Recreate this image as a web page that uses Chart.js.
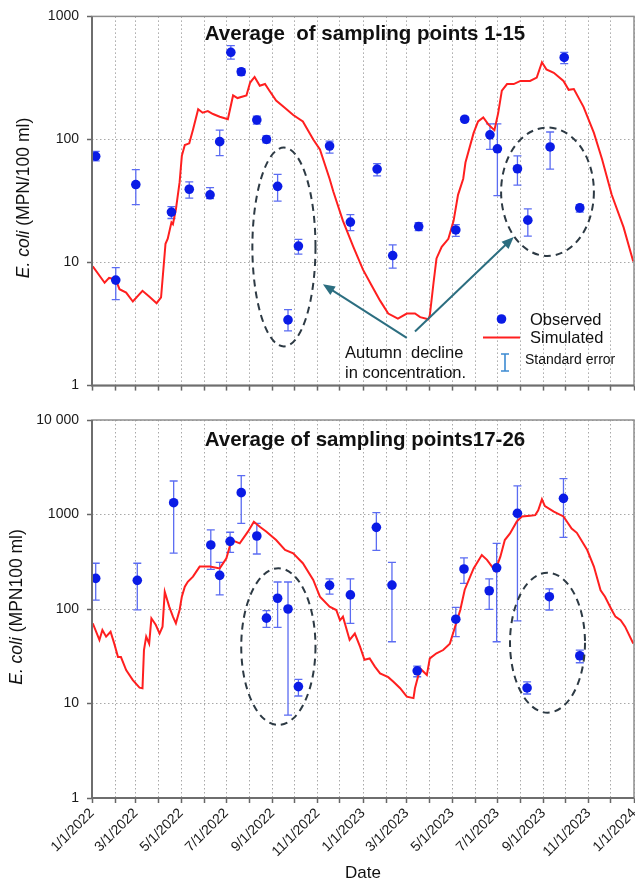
<!DOCTYPE html>
<html>
<head>
<meta charset="utf-8">
<script src="https://cdn.jsdelivr.net/npm/chart.js@4.4.1/dist/chart.umd.min.js"></script>
<style>
  body { margin: 0; background: #fff; }
  #wrap { position: relative; width: 635px; height: 882px; overflow: hidden; }
  canvas { position: absolute; left: 0; }
  #top { top: 0; }
  #bottom { top: 402px; }
  .t { position: absolute; font-family: "Liberation Sans", Arial, sans-serif; color: #111; white-space: pre; line-height: 1; }
  .title { font-weight: bold; font-size: 20.5px; transform: translate(-50%, -50%); }
  .ytitle { font-size: 17.5px; transform: translate(-50%, -50%) rotate(-90deg); }
  .leg { font-size: 16.5px; transform: translateY(-50%); }
</style>
</head>
<body>
<div id="wrap">
  <canvas id="top" width="635" height="402"></canvas>
  <canvas id="bottom" width="635" height="480"></canvas>

  <div class="t title" style="left:365px;top:33px">Average  of sampling points 1-15</div>
  <div class="t title" style="left:365px;top:439px">Average of sampling points17-26</div>
  <div class="t ytitle" style="left:24px;top:198px"><i>E. coli</i> (MPN/100 ml)</div>
  <div class="t ytitle" style="left:17px;top:607px"><i>E. coli</i> (MPN100 ml)</div>

  <div class="t leg" style="left:530px;top:319px">Observed</div>
  <div class="t leg" style="left:530px;top:337px">Simulated</div>
  <div class="t leg" style="left:525px;top:359px;font-size:14px">Standard error</div>
  <div class="t leg" style="left:345px;top:352px">Autumn  decline</div>
  <div class="t leg" style="left:345px;top:372px">in concentration.</div>
  <div class="t" style="left:363px;top:872px;font-size:17px;transform:translate(-50%,-50%)">Date</div>
</div>

<script>
// x values are days since 1/1/2022
const monthStartDays = [0, 31, 59, 90, 120, 151, 181, 212, 243, 273, 304, 334,
  365, 396, 424, 455, 485, 516, 546, 577, 608, 638, 669, 699, 730];
const dateLabels = ['1/1/2022', '3/1/2022', '5/1/2022', '7/1/2022', '9/1/2022', '11/1/2022',
  '1/1/2023', '3/1/2023', '5/1/2023', '7/1/2023', '9/1/2023', '11/1/2023', '1/1/2024'];

const yTopTicks = [1, 10, 100, 1000];
const yTopLabels = ['1', '10', '100', '1000'];
const yBotTicks = [1, 10, 100, 1000, 10000];
const yBotLabels = ['1', '10', '100', '1000', '10 000'];

// sampling points 1-15
const obsTopDays = [5, 32, 59, 107, 131, 159, 172, 187, 201, 222, 235, 250, 264, 278, 320, 348, 384, 405, 440, 490, 502, 536, 546, 573, 587, 617, 636, 657];
const obsTopMean = [73, 7.2, 43, 25.7, 39.4, 35.5, 96, 511, 355, 144, 100, 41.6, 3.42, 13.6, 88.5, 21.3, 57.5, 11.4, 19.6, 18.4, 146, 109, 84, 57.8, 22.1, 86.9, 464, 27.8];
const obsTopLow = [67, 5.0, 29.5, 22.8, 33.4, 33, 74, 450, 334, 133, 94, 31.5, 2.78, 11.7, 77.4, 18.2, 50.6, 9.0, 18.2, 16.3, 140, 83, 35, 42.6, 16.4, 57.5, 414, 25.7];
const obsTopHigh = [80, 9.1, 56.8, 28.5, 45.3, 40.6, 119, 578, 375, 155, 107, 52, 4.14, 15.4, 97, 24.5, 63.7, 13.9, 21.1, 20.3, 152, 134, 134, 73.7, 27.3, 115, 511, 29.5];

const simTopDays = [1, 17, 23, 32, 37, 46, 55, 68, 77, 87, 93, 99, 102, 107, 109, 113, 118, 121, 125, 131,
  136, 143, 149, 156, 163, 172, 183, 190, 196, 208, 213, 219, 226, 233, 239, 248, 260, 271, 284, 298,
  307, 320, 325, 338, 352, 365, 377, 388, 399, 412, 424, 435, 442, 453, 455, 460, 464, 471, 480, 487,
  493, 500, 503, 514, 520, 527, 534, 542, 547, 552, 559, 568, 577, 590, 599, 606, 612, 622, 635, 642,
  649, 662, 676, 687, 700, 716, 729];
const simTopVals = [9.3, 6.85, 7.5, 7.3, 6.07, 5.7, 4.82, 5.89, 5.3, 4.67, 5.2, 14.2, 15.6, 21.2, 20.5, 27, 45, 73.6, 90, 93,
  120, 176, 165, 170, 161, 153, 146, 228, 217, 228, 290, 322, 273, 282, 249, 207, 180, 158, 140, 100,
  83, 48, 37.8, 21.8, 13.4, 8.75, 6.45, 4.9, 3.85, 3.5, 3.85, 3.85, 3.6, 3.46, 3.73, 6.85, 10.8, 13.4, 15.6, 21.8,
  35.5, 48, 65, 113, 140, 151, 132, 119, 163, 249, 282, 282, 299, 299, 318, 424, 371, 348, 299, 253,
  257, 184, 113, 69, 35.5, 19.3, 10.2];

// sampling points 17-26
const obsBotDays = [5, 61, 110, 160, 172, 186, 201, 222, 235, 250, 264, 278, 320, 348, 383, 404, 438, 490, 501, 535, 545, 573, 586, 616, 635, 657];
const obsBotMean = [211, 201, 1333, 476, 227, 520, 1702, 592, 80, 130, 100, 15.1, 178, 141, 731, 179, 22.2, 78, 265, 156, 273, 1030, 14.6, 135, 1483, 32];
const obsBotLow = [124, 98, 391, 263, 141, 398, 807, 382, 64, 64, 7.55, 12, 144, 70.6, 418, 45, 19.2, 51, 187, 99, 45, 75, 12.6, 97.6, 574, 27];
const obsBotHigh = [305, 305, 2261, 686, 312, 649, 2575, 807, 96, 193, 193, 18, 208, 208, 1045, 312, 24.9, 104, 347, 208, 495, 2004, 16.9, 163, 2393, 36.8];

const simBotDays = [1, 10, 14, 19, 25, 30, 35, 39, 46, 55, 64, 68, 70, 73, 77, 80, 86, 91, 95, 98,
  104, 109, 113, 118, 121, 125, 129, 136, 145, 159, 172, 181, 188, 199, 210, 218, 226, 235, 248, 260,
  271, 284, 298, 307, 320, 329, 334, 338, 347, 354, 361, 367, 374, 381, 388, 399, 406, 415, 424, 433,
  435, 442, 451, 455, 464, 473, 482, 489, 496, 502, 514, 525, 532, 543, 550, 556, 563, 572, 579, 590,
  597, 601, 606, 610, 622, 635, 646, 653, 667, 676, 685, 691, 700, 705, 712, 718, 729];
const simBotVals = [70.6, 47, 60, 51, 57.5, 43, 31, 31, 22.6, 17.7, 14.7, 14.5, 36.8, 51, 43, 79.7, 67.7, 55, 65, 152,
  106, 83, 70.6, 97.6, 135, 172, 194, 220, 281, 281, 269, 344, 537, 495, 658, 840, 743, 658, 537, 421,
  388, 305, 203, 135, 106, 97.6, 76, 83, 47, 55, 40, 29, 30, 24.6, 20.8, 19, 17, 14.5, 11.8, 11.4,
  14.5, 23.5, 20, 30, 34, 36.8, 43, 65, 97.6, 160, 269, 372, 331, 253, 358, 537, 630, 840, 953, 972,
  985, 1105, 1450, 1225, 1070, 953, 710, 640, 421, 281, 158, 135, 97.6, 83, 76, 65, 43];

Chart.defaults.font.family = '"Liberation Sans", Arial, sans-serif';
Chart.defaults.color = '#1a1a1a';

const toXY = (xs, ys) => xs.map((x, i) => ({ x: x, y: ys[i] }));

// error bars, dashed ellipses, arrows, frame and legend icons
const overlay = {
  id: 'overlay',
  beforeDatasetsDraw(chart, args, o) {
    const { ctx, scales: { x, y } } = chart;
    ctx.save();
    ctx.strokeStyle = '#5b6cf2';
    ctx.lineWidth = 1.3;
    o.days.forEach((d, i) => {
      const px = x.getPixelForValue(d);
      const lo = y.getPixelForValue(o.low[i]);
      const hi = y.getPixelForValue(o.high[i]);
      ctx.beginPath();
      ctx.moveTo(px, lo); ctx.lineTo(px, hi);
      ctx.moveTo(px - 4, lo); ctx.lineTo(px + 4, lo);
      ctx.moveTo(px - 4, hi); ctx.lineTo(px + 4, hi);
      ctx.stroke();
    });
    ctx.restore();
  },
  afterDatasetsDraw(chart, args, o) {
    const { ctx, chartArea: a, scales: { x, y } } = chart;
    ctx.save();
    ctx.strokeStyle = '#2d3a44';
    ctx.lineWidth = 2;
    ctx.setLineDash([7, 5]);
    o.ellipses.forEach(e => {
      const x0 = x.getPixelForValue(e[0]), x1 = x.getPixelForValue(e[1]);
      const y0 = y.getPixelForValue(e[2]), y1 = y.getPixelForValue(e[3]);
      ctx.beginPath();
      ctx.ellipse((x0 + x1) / 2, (y0 + y1) / 2, Math.abs(x1 - x0) / 2, Math.abs(y1 - y0) / 2, 0, 0, Math.PI * 2);
      ctx.stroke();
    });
    ctx.setLineDash([]);

    ctx.strokeStyle = '#2c6e80';
    ctx.fillStyle = '#2c6e80';
    (o.arrows || []).forEach(r => {
      const sx = x.getPixelForValue(r[0]), sy = y.getPixelForValue(r[1]);
      const ex = x.getPixelForValue(r[2]), ey = y.getPixelForValue(r[3]);
      const ang = Math.atan2(ey - sy, ex - sx);
      ctx.lineWidth = 2;
      ctx.beginPath();
      ctx.moveTo(sx, sy);
      ctx.lineTo(ex - 9 * Math.cos(ang), ey - 9 * Math.sin(ang));
      ctx.stroke();
      ctx.beginPath();
      ctx.moveTo(ex, ey);
      ctx.lineTo(ex - 12 * Math.cos(ang) + 5 * Math.sin(ang), ey - 12 * Math.sin(ang) - 5 * Math.cos(ang));
      ctx.lineTo(ex - 12 * Math.cos(ang) - 5 * Math.sin(ang), ey - 12 * Math.sin(ang) + 5 * Math.cos(ang));
      ctx.closePath();
      ctx.fill();
    });

    // frame
    ctx.strokeStyle = '#8e8e8e';
    ctx.lineWidth = 1.5;
    ctx.strokeRect(a.left, a.top, a.right - a.left, a.bottom - a.top);
    ctx.strokeStyle = '#6e6e6e';
    ctx.lineWidth = 2;
    ctx.beginPath();
    ctx.moveTo(a.left, a.top); ctx.lineTo(a.left, a.bottom); ctx.lineTo(a.right, a.bottom);
    ctx.stroke();

    if (o.legend) {
      ctx.fillStyle = '#0a1be6';
      ctx.beginPath(); ctx.arc(501.5, 319, 4.8, 0, Math.PI * 2); ctx.fill();
      ctx.strokeStyle = '#ff1f1f';
      ctx.lineWidth = 2;
      ctx.beginPath(); ctx.moveTo(483, 337.5); ctx.lineTo(520, 337.5); ctx.stroke();
      ctx.strokeStyle = '#3c8bd2';
      ctx.lineWidth = 1.6;
      ctx.beginPath();
      ctx.moveTo(505, 354); ctx.lineTo(505, 371);
      ctx.moveTo(501, 354); ctx.lineTo(509, 354);
      ctx.moveTo(501, 371); ctx.lineTo(509, 371);
      ctx.stroke();
    }
    ctx.restore();
  }
};

function makeChart(id, cfg) {
  return new Chart(document.getElementById(id), {
    type: 'line',
    data: {
      datasets: [
        {
          label: 'Observed',
          data: toXY(cfg.obsDays, cfg.obsMean),
          showLine: false,
          pointRadius: 4.8,
          pointBackgroundColor: '#0a1be6',
          pointBorderWidth: 0
        },
        {
          label: 'Simulated',
          data: toXY(cfg.simDays, cfg.simVals),
          borderColor: '#ff1f1f',
          borderWidth: 2,
          pointRadius: 0,
          tension: 0
        }
      ]
    },
    options: {
      responsive: false,
      animation: false,
      devicePixelRatio: 1,
      layout: { autoPadding: false, padding: { top: cfg.padTop, right: 1, left: 0, bottom: 0 } },
      plugins: {
        legend: { display: false },
        tooltip: { enabled: false },
        overlay: {
          days: cfg.obsDays, low: cfg.obsLow, high: cfg.obsHigh,
          ellipses: cfg.ellipses, arrows: cfg.arrows, legend: cfg.legend
        }
      },
      scales: {
        x: {
          type: 'linear',
          min: 0,
          max: 730,
          afterBuildTicks: s => { s.ticks = monthStartDays.map(d => ({ value: d })); },
          afterFit: s => { s.height = cfg.xHeight; s.paddingLeft = 0; s.paddingRight = 0; },
          ticks: {
            display: cfg.showDates,
            autoSkip: false,
            minRotation: 45,
            maxRotation: 45,
            padding: 2,
            font: { size: 14 },
            color: '#1a1a1a',
            callback: (v, i) => (i % 2 === 0 ? dateLabels[i / 2] : '')
          },
          grid: { color: '#a8a8a8', lineWidth: 1, tickLength: 5, tickColor: '#666', tickWidth: 1.5, tickBorderDash: [] },
          border: { display: false, dash: [1.5, 2.5] }
        },
        y: {
          type: 'logarithmic',
          min: cfg.yTicks[0],
          max: cfg.yTicks[cfg.yTicks.length - 1],
          afterBuildTicks: s => { s.ticks = cfg.yTicks.map(v => ({ value: v })); },
          afterFit: s => { s.width = 92; },
          ticks: {
            padding: 8,
            font: { size: 14 },
            color: '#1a1a1a',
            callback: (v) => cfg.yLabels[cfg.yTicks.indexOf(v)]
          },
          grid: { color: '#a8a8a8', lineWidth: 1, tickLength: 5, tickColor: '#666', tickWidth: 1.5, tickBorderDash: [] },
          border: { display: false, dash: [1.5, 2.5] }
        }
      }
    },
    plugins: [overlay]
  });
}

makeChart('top', {
  obsDays: obsTopDays, obsMean: obsTopMean, obsLow: obsTopLow, obsHigh: obsTopHigh,
  simDays: simTopDays, simVals: simTopVals,
  yTicks: yTopTicks, yLabels: yTopLabels,
  padTop: 14, xHeight: 10, showDates: false, legend: true,
  ellipses: [[216, 301, 86, 2.08], [551, 676, 125, 11.3]],
  arrows: [[424, 2.44, 311, 6.65], [435, 2.75, 568, 16.1]]
});

makeChart('bottom', {
  obsDays: obsBotDays, obsMean: obsBotMean, obsLow: obsBotLow, obsHigh: obsBotHigh,
  simDays: simBotDays, simVals: simBotVals,
  yTicks: yBotTicks, yLabels: yBotLabels,
  padTop: 18, xHeight: 84, showDates: true, legend: false,
  ellipses: [[201, 301, 270, 5.92], [563, 664, 242, 8.0]],
  arrows: []
});
</script>
</body>
</html>
